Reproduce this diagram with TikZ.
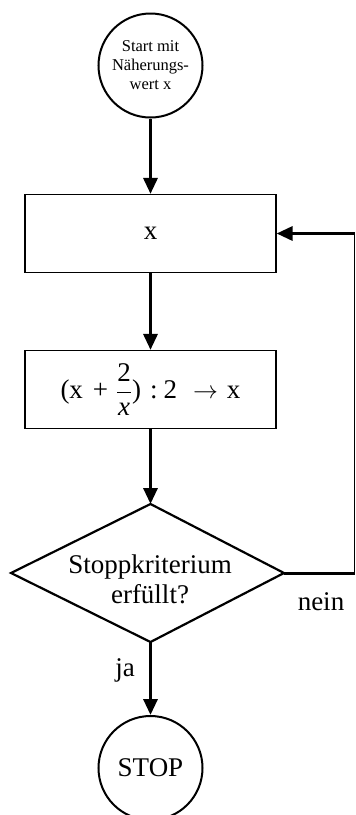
\documentclass[tikz,border=0pt]{standalone}
\usepackage{fontspec}
\setmainfont{Liberation Serif}
\usetikzlibrary{arrows.meta}
\begin{document}
\begin{tikzpicture}[x=1pt,y=-1pt,
  flow/.style={line width=3.2pt,-{Triangle[length=16pt,width=14pt]}},
  thickline/.style={line width=3pt},
  thinline/.style={line width=1pt},
  procbox/.style={draw,line width=1.2pt,minimum width=251pt,minimum height=78pt,inner sep=0pt,font=\fontsize{27}{30}\selectfont},
  termcirc/.style={draw,circle,line width=2pt,minimum size=104pt,inner sep=0pt,align=center},
  decisionline/.style={line width=2.2pt,line join=miter},
  lbl/.style={font=\fontsize{27}{30}\selectfont,inner sep=0pt,align=center}]
\useasboundingbox (0,0) rectangle (356,815);
% nodes
\node[termcirc,font=\fontsize{16.5}{19}\selectfont] (start) at (150.5,65.5) {Start mit\\Näherungs-\\wert x};
\node[procbox] (b1) at (150.5,233.5) {x};
\node[procbox] (b2) at (150.5,389.5) {(x\hspace{10pt}+\hspace{8pt}$\displaystyle\frac{\hbox{2\rule[-2pt]{0pt}{2pt}}}{\hbox{\itshape x}}$)\hspace{9pt}:\hspace{6pt}2\hspace{16pt}$\rightarrow$\hspace{9pt}x};
\coordinate (dtop) at (150.5,504);
\coordinate (dright) at (284,573);
\coordinate (dbot) at (150.5,642);
\coordinate (dleft) at (11,573);
\draw[decisionline] (dtop) -- (dright) -- (dbot) -- (dleft) -- cycle;
\node[lbl] (dtext) at (150,579) {Stoppkriterium\\erfüllt?};
\node[termcirc,lbl,draw,circle,line width=2pt,minimum size=104pt] (stop) at (150.5,768) {STOP};
\node[lbl] (nein) at (321,602) {nein};
\node[lbl] (ja) at (125,670) {ja};
\coordinate (fb1) at (354.5,573);
\coordinate (fb2) at (354.5,233.5);
% connectors
\draw[flow] (start.south) -- (b1.north);
\draw[flow] (b1.south) -- (b2.north);
\draw[flow] (b2.south) -- (dtop);
\draw[flow] (dbot) -- (stop.north);
\draw[thickline] (dright) -- (fb1);
\draw[thinline] (fb1) -- (fb2);
\draw[flow] (fb2) -- (b1.east);
\end{tikzpicture}
\end{document}
